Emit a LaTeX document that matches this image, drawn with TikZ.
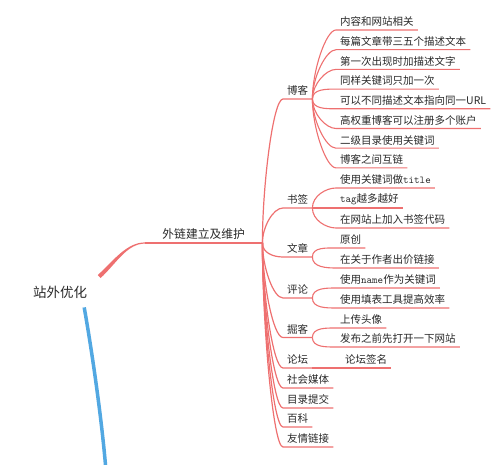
\documentclass[tikz,border=0pt]{standalone}
\usepackage{fontspec}
\setmainfont{Noto Sans CJK SC}
\definecolor{linkred}{RGB}{238,112,112}
\definecolor{rootblue}{RGB}{82,168,226}
\definecolor{inkgray}{RGB}{40,40,40}

\begin{document}
\begin{tikzpicture}[x=1pt, y=1pt,
    every node/.style={text=inkgray},
    topic/.style={anchor=south west, inner xsep=4pt, inner ysep=3pt, font=\fontsize{10.5}{12}\selectfont},
    twig/.style={draw=linkred, line width=1.1pt},
    goup/.style={out=90, in=180, in distance=10pt},
    godown/.style={out=-90, in=180, in distance=10pt}]
    \useasboundingbox (0,0) rectangle (500,465);

    % Root and main branch
    \node[font=\fontsize{13.5}{16}\selectfont, inner xsep=12pt, inner ysep=9pt] (root) at (60,173) {站外优化};
    \node[anchor=south west, minimum width=117pt, inner xsep=0pt, inner ysep=3pt, font=\fontsize{11.8}{14}\selectfont] (wl) at (145,222) {外链建立及维护};
    \fill[linkred] ([shift={(-1.4,1.5)}]root.north east) .. controls +(16,15) and +(-18,0) .. ([yshift=0.6pt]wl.south west)
        -- ([yshift=-0.6pt]wl.south west) .. controls +(-18,0) and +(16,15) .. ([shift={(1.4,-1.5)}]root.north east) -- cycle;
    \draw[linkred, line width=1.3pt] (wl.south west) -- (wl.south east);
    \coordinate (hub) at (wl.south east);

    % Blue branch leaving the picture
    \coordinate (bl) at (106,-6);
    \draw[rootblue, line width=3.5pt] ([xshift=-15pt]root.south east) .. controls +(8,-45) and +(-4,50) .. (bl);

    % Second level
    \node[topic] (bk) at (283,366) {博客};
    \node[topic] (sq) at (283,257) {书签};
    \node[topic] (wz) at (283,208) {文章};
    \node[topic] (pl) at (283,167) {评论};
    \node[topic] (jk) at (283,127.5) {掘客};
    \node[topic] (lt) at (283,97) {论坛};
    \node[topic] (sh) at (283,77) {社会媒体};
    \node[topic] (ml) at (283,57) {目录提交};
    \node[topic] (bkp) at (283,38) {百科};
    \node[topic] (yq) at (283,18) {友情链接};

    \draw[twig, line width=1.2pt] (hub) to[goup] (bk.south west) -- (bk.south east);
    \draw[twig, line width=1.2pt] (hub) to[goup] (sq.south west) -- (sq.south east);
    \draw[twig, line width=1.2pt] (hub) to[godown] (wz.south west) -- (wz.south east);
    \draw[twig, line width=1.2pt] (hub) to[godown] (pl.south west) -- (pl.south east);
    \draw[twig, line width=1.2pt] (hub) to[godown] (jk.south west) -- (jk.south east);
    \draw[twig, line width=1.2pt] (hub) to[godown] (lt.south west) -- (lt.south east);
    \draw[twig, line width=1.2pt] (hub) to[godown] (sh.south west) -- (sh.south east);
    \draw[twig, line width=1.2pt] (hub) to[godown] (ml.south west) -- (ml.south east);
    \draw[twig, line width=1.2pt] (hub) to[godown] (bkp.south west) -- (bkp.south east);
    \draw[twig, line width=1.2pt] (hub) to[godown] (yq.south west) -- (yq.south east);

    % Blog
    \node[topic] (bk1) at (336,435) {内容和网站相关};
    \node[topic] (bk2) at (336,415.3) {每篇文章带三五个描述文本};
    \node[topic] (bk3) at (336,395.6) {第一次出现时加描述文字};
    \node[topic] (bk4) at (336,375.9) {同样关键词只加一次};
    \node[topic] (bk5) at (336,356.2) {可以不同描述文本指向同一URL};
    \node[topic] (bk6) at (336,336.5) {高权重博客可以注册多个账户};
    \node[topic] (bk7) at (336,316.8) {二级目录使用关键词};
    \node[topic] (bk8) at (336,297.1) {博客之间互链};
    \draw[twig] (bk.south east) to[goup] (bk1.south west) -- (bk1.south east);
    \draw[twig] (bk.south east) to[goup] (bk2.south west) -- (bk2.south east);
    \draw[twig] (bk.south east) to[goup] (bk3.south west) -- (bk3.south east);
    \draw[twig] (bk.south east) to[goup] (bk4.south west) -- (bk4.south east);
    \draw[twig] (bk.south east) to[godown] (bk5.south west) -- (bk5.south east);
    \draw[twig] (bk.south east) to[godown] (bk6.south west) -- (bk6.south east);
    \draw[twig] (bk.south east) to[godown] (bk7.south west) -- (bk7.south east);
    \draw[twig] (bk.south east) to[godown] (bk8.south west) -- (bk8.south east);

    % Bookmarks
    \node[topic] (sq1) at (336,277) {使用关键词做{\ttfamily title}};
    \node[topic] (sq2) at (336,257) {{\ttfamily tag}越多越好};
    \node[topic] (sq3) at (336,237) {在网站上加入书签代码};
    \draw[twig] (sq.south east) to[goup] (sq1.south west) -- (sq1.south east);
    \draw[twig] (sq.south east) -- (sq2.south west) -- (sq2.south east);
    \draw[twig] (sq.south east) to[godown] (sq3.south west) -- (sq3.south east);

    % Articles
    \node[topic] (wz1) at (336,217) {原创};
    \node[topic] (wz2) at (336,197) {在关于作者出价链接};
    \draw[twig] (wz.south east) to[goup] (wz1.south west) -- (wz1.south east);
    \draw[twig] (wz.south east) to[godown] (wz2.south west) -- (wz2.south east);

    % Comments
    \node[topic] (pl1) at (336,177) {使用{\ttfamily name}作为关键词};
    \node[topic] (pl2) at (336,157) {使用填表工具提高效率};
    \draw[twig] (pl.south east) to[goup] (pl1.south west) -- (pl1.south east);
    \draw[twig] (pl.south east) to[godown] (pl2.south west) -- (pl2.south east);

    % Diggers
    \node[topic] (jk1) at (336,137) {上传头像};
    \node[topic] (jk2) at (336,118) {发布之前先打开一下网站};
    \draw[twig] (jk.south east) to[goup] (jk1.south west) -- (jk1.south east);
    \draw[twig] (jk.south east) to[godown] (jk2.south west) -- (jk2.south east);

    % Forum
    \node[topic] (lt1) at (341,97) {论坛签名};
    \draw[twig] (lt.south east) -- (lt1.south west) -- (lt1.south east);
\end{tikzpicture}
\end{document}
